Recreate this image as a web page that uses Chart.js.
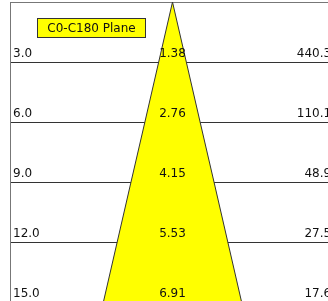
<!DOCTYPE html>
<html>
<head>
<meta charset="utf-8">
<script src="https://cdn.jsdelivr.net/npm/chart.js@4.4.1/dist/chart.umd.min.js"></script>
<style>
  html, body { margin: 0; padding: 0; background: #fff; overflow: hidden; }
  #wrap { position: absolute; left: 0; top: 0; width: 328px; height: 301px; overflow: hidden; }
  canvas { position: absolute; left: 0; top: 0; }
</style>
</head>
<body>
<div id="wrap"><canvas id="cone" width="345" height="305"></canvas></div>
<script>
// Beam data (C0-C180 plane)
const distances = [3, 6, 9, 12, 15];
const distanceLabels = ['3.0', '6.0', '9.0', '12.0', '15.0'];
const diameters = [1.38, 2.76, 4.15, 5.53, 6.91];
const luxValues = [440.3, 110.1, 48.9, 27.5, 17.6];
const planeLabel = 'C0-C180 Plane';

const FONT = '12px "DejaVu Sans", Verdana, sans-serif';
const luxColumnX = 7.93; // metres right of the beam axis

// Build cone outline: apex, right edge down, left edge back up
const conePoints = [{ x: 0, y: 0 }];
distances.forEach((d, i) => conePoints.push({ x: diameters[i] / 2, y: d }));
for (let i = distances.length - 1; i >= 0; i--) {
  conePoints.push({ x: -diameters[i] / 2, y: distances[i] });
}
conePoints.push({ x: 0, y: 0 });

// Text rows and the label box
const labelsPlugin = {
  id: 'coneLabels',
  afterDraw(chart) {
    const { ctx, chartArea, scales } = chart;
    const xs = scales.x, ys = scales.y;
    ctx.save();
    ctx.font = FONT;
    ctx.fillStyle = '#111';
    ctx.textBaseline = 'alphabetic';
    distances.forEach((d, i) => {
      const y = ys.getPixelForValue(d) - 5;
      ctx.textAlign = 'left';
      ctx.fillText(distanceLabels[i], chartArea.left + 3, y);
      ctx.textAlign = 'center';
      ctx.fillText(diameters[i].toFixed(2), xs.getPixelForValue(0), y);
      ctx.textAlign = 'right';
      ctx.fillText(luxValues[i].toFixed(1), xs.getPixelForValue(luxColumnX), y);
    });

    // plane label box
    ctx.fillStyle = '#ffff00';
    ctx.fillRect(37, 18, 109, 20);
    ctx.strokeStyle = '#333';
    ctx.lineWidth = 1;
    ctx.strokeRect(37.5, 18.5, 108, 19);
    ctx.fillStyle = '#111';
    ctx.textAlign = 'center';
    ctx.textBaseline = 'middle';
    ctx.fillText(planeLabel, 91.5, 28.5);
    ctx.restore();
  }
};

new Chart(document.getElementById('cone'), {
  type: 'scatter',
  data: {
    datasets: [{
      label: 'Beam',
      data: conePoints,
      showLine: true,
      fill: 'shape',
      backgroundColor: '#ffff00',
      borderColor: '#333',
      borderWidth: 1,
      pointRadius: 0,
      tension: 0
    }]
  },
  options: {
    responsive: false,
    animation: false,
    layout: { padding: { left: 10, top: 2, right: 0, bottom: 3 } },
    plugins: {
      legend: { display: false },
      tooltip: { enabled: false }
    },
    scales: {
      x: {
        type: 'linear',
        min: -8.125,
        max: 8.625,
        display: false
      },
      y: {
        type: 'linear',
        reverse: true,
        min: 0,
        max: 15,
        ticks: { display: false, stepSize: 3 },
        grid: {
          drawTicks: false,
          color: ctx => (ctx.tick && ctx.tick.value === 0 ? '#777' : '#333'),
          lineWidth: 1
        },
        border: { display: true, color: '#777', width: 1 }
      }
    }
  },
  plugins: [labelsPlugin]
});
</script>
</body>
</html>
